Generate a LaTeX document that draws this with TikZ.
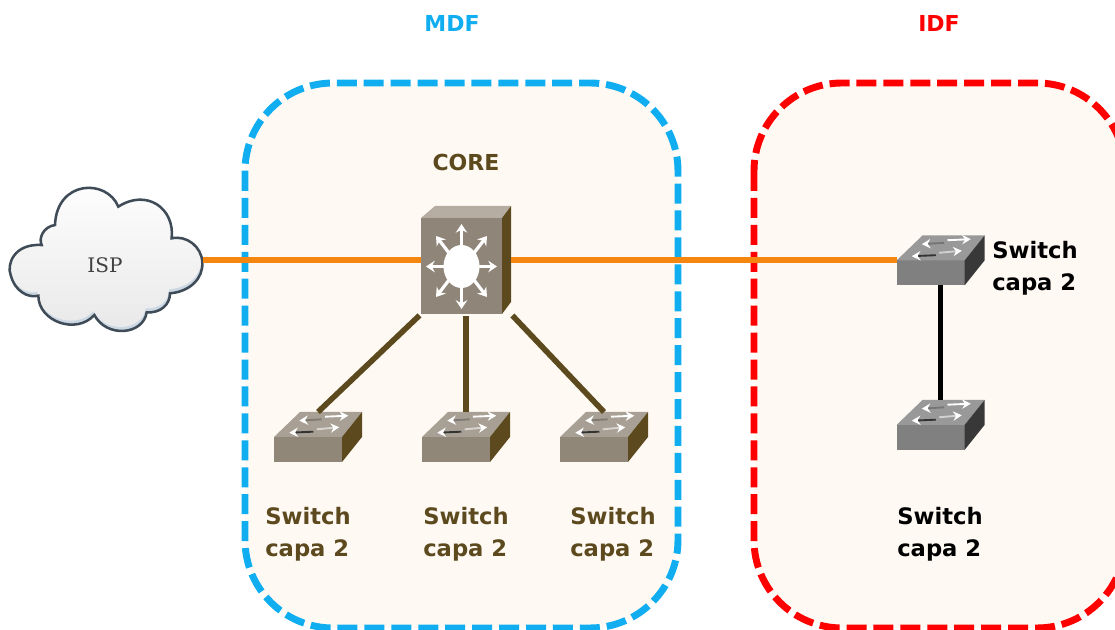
\documentclass[tikz,border=0pt]{standalone}
\usepackage{fontspec}
\setmainfont{DejaVu Sans}
\newfontfamily\ispfont{DejaVu Serif}
\usetikzlibrary{arrows.meta}
\definecolor{brownc}{HTML}{5C4A1E}
\definecolor{orangec}{HTML}{F5860F}
\definecolor{bluec}{HTML}{10AEF0}
\definecolor{redc}{HTML}{FE0000}
\definecolor{roomfill}{HTML}{FFF9F3}
\definecolor{cloudedge}{HTML}{3F4C58}
\definecolor{cloudshadow}{HTML}{CBD8E3}
\definecolor{corefront}{HTML}{8F8679}
\definecolor{coretop}{HTML}{B5ADA1}
\definecolor{swfront}{HTML}{908779}
\definecolor{swtop}{HTML}{A8A094}
\definecolor{gfront}{HTML}{808080}
\definecolor{gtop}{HTML}{999999}
\definecolor{gside}{HTML}{383838}
\definecolor{shaftdark}{HTML}{333333}
\tikzset{
  room/.style={line width=5.2pt,dash pattern=on 15pt off 5.2pt,fill=roomfill,rounded corners=66pt},
  anchorbox/.style={inner sep=0pt,outer sep=0pt,minimum width=#1},
  uplink/.style={orangec,line width=4.8pt},
  brownlink/.style={brownc,line width=4.2pt},
  blacklink/.style={black,line width=4.2pt},
  lbl/.style={font=\bfseries\fontsize{17}{24.3}\selectfont,inner sep=0pt,align=left,anchor=north west},
  title/.style={font=\bfseries\fontsize{16.5}{20}\selectfont,inner sep=0pt},
  swarrow/.style={line width=1.4pt,-{Stealth[length=6.5pt,width=7pt,color=white,fill=white]},draw=#1},
  corearrow/.style={white,line width=2.4pt,-{Stealth[length=6.5pt,width=8.5pt]}}
}
\newcommand{\cloudpath}{(515,190) .. controls (525,100) and (440,40) .. (355,95)
 .. controls (320,10) and (170,15) .. (165,150)
 .. controls (130,155) and (115,190) .. (125,210)
 .. controls (40,205) and (20,270) .. (32,300)
 .. controls (45,350) and (85,370) .. (115,362)
 .. controls (115,440) and (230,480) .. (283,420)
 .. controls (320,490) and (430,480) .. (440,412)
 .. controls (480,415) and (510,390) .. (510,355)
 .. controls (570,350) and (610,310) .. (607,262)
 .. controls (605,215) and (560,180) .. (515,190) -- cycle}
% #1 name, #2 position, #3 front, #4 top, #5 side
\newcommand{\switchshape}[5]{%
  \node[anchorbox=66pt,minimum height=37.5pt] (#1) at #2 {};
  \begin{scope}[shift={#2}]
    \fill[#3] (-44,25) rectangle (24,0);
    \fill[#4] (-44,0) -- (-18,-25) -- (44,-25) -- (24,0) -- cycle;
    \fill[#5] (24,0) -- (44,-25) -- (44,0) -- (24,25) -- cycle;
    \draw[swarrow=shaftdark!35!#4] (3.7,-17.7) -- (-18.7,-16.3);
    \draw[swarrow=white] (7,-20.3) -- (30.3,-21.3);
    \draw[swarrow=shaftdark] (-4.7,-5.3) -- (-28.7,-4.3);
    \draw[swarrow=white!55!#4] (-1.3,-7.7) -- (21.3,-9.7);
  \end{scope}}
\begin{document}
\begin{tikzpicture}[x=0.75pt,y=-0.75pt]
\useasboundingbox (0,0) rectangle (1115,630);
% rooms
\draw[room,draw=bluec] (245,83) rectangle (678,628);
\draw[room,draw=redc] (754,83) rectangle (1125,628);
% cloud
\begin{scope}[x=0.25pt,y=-0.25pt,shift={(0,525)}]
  \fill[cloudshadow] \cloudpath;
  \begin{scope}
    \clip \cloudpath;
    \begin{scope}[shift={(-3,-12)}]
      \shade[top color=white,bottom color=black!9] \cloudpath;
    \end{scope}
  \end{scope}
  \draw[draw=cloudedge,line width=1.9pt] \cloudpath;
\end{scope}
\node[anchorbox=147pt,minimum height=75pt,font=\ispfont\fontsize{15}{18}\selectfont,text=black!75] (isp) at (105,265.5) {ISP};
% core switch
\node[anchorbox=67.5pt,minimum height=81pt] (core) at (466,260) {};
\fill[corefront] (421,218) rectangle (502,314);
\fill[coretop] (421,218) -- (435,206) -- (511,206) -- (502,218) -- cycle;
\fill[brownc] (502,218) -- (511,206) -- (511,302) -- (502,314) -- cycle;
\fill[white] (461.5,266.5) ellipse [x radius=18,y radius=21.5];
\foreach \xa/\ya/\xb/\yb in {461.5/250/461.5/224,461.5/283/461.5/309,444/266.5/426/266.5,479/266.5/497/266.5,449/253/436/236,474/253/487/236,449/280/436/297,474/280/487/297}
  \draw[corearrow] (\xa,\ya) -- (\xb,\yb);
% switches
\switchshape{sw1}{(318,437)}{swfront}{swtop}{brownc}
\switchshape{sw2}{(466,437)}{swfront}{swtop}{brownc}
\switchshape{sw3}{(604,437)}{swfront}{swtop}{brownc}
\switchshape{sw4}{(940.5,260.5)}{gfront}{gtop}{gside}
\switchshape{sw5}{(940.5,425)}{gfront}{gtop}{gside}
% links
\draw[uplink] (isp.east |- core.west) -- (core.west);
\draw[uplink] (core.east) -- (core.east -| sw4.west);
\draw[brownlink,shorten <=1.5pt] (core.south west) -- (sw1.north);
\draw[brownlink,shorten <=1.5pt] (core.south) -- (sw2.north);
\draw[brownlink,shorten <=1.5pt] (core.south east) -- (sw3.north);
\draw[blacklink] (sw4.south) -- (sw5.north);
% labels
\node[title,text=bluec] (mdf) at (452,23) {MDF};
\node[title,text=redc] (idf) at (939,23) {IDF};
\node[title,text=brownc] (corel) at (466,162) {CORE};
\node[lbl,text=brownc] (l1) at (265,507) {Switch\\capa 2};
\node[lbl,text=brownc] (l2) at (423,507) {Switch\\capa 2};
\node[lbl,text=brownc] (l3) at (570,507) {Switch\\capa 2};
\node[lbl,text=black] (l4) at (897,507) {Switch\\capa 2};
\node[lbl,text=black] (l5) at (992,241) {Switch\\capa 2};
\end{tikzpicture}
\end{document}
